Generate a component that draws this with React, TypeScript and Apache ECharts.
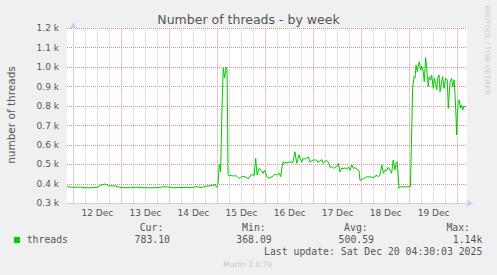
import React, { useEffect, useRef } from "react";
import * as echarts from "echarts";

// Hours relative to 12 Dec 00:00
const hours = [
  -3.1, -0.6, 3.4, 6.3, 9.3, 11.8, 13.8, 15.8, 17.8, 21.3,
  23.3, 28.3, 31.3, 34.3, 37.8, 41.3, 45.3, 47.3, 49.8, 53.3,
  56.3, 59.3, 61.8, 63.8, 66.3, 68.3, 69.8, 70.8, 71.6, 72.3,
  72.9, 73.6, 74.3, 74.9, 75.6, 76.3, 76.8, 77.3, 77.8, 78.8,
  79.8, 81.3, 82.3, 83.3, 84.3, 85.3, 86.3, 87.3, 88.3, 89.3,
  90.3, 91.1, 91.8, 92.8, 93.8, 94.8, 95.5, 96.6, 97.3, 98.3,
  99.8, 100.8, 101.8, 102.8, 103.6, 104.3, 104.9, 105.2, 106.2, 107.2,
  108.2, 109.7, 110.7, 111.6, 112.7, 114.1, 114.7, 115.7, 116.6, 117.4,
  118.2, 119.2, 120.2, 121.6, 122.2, 123.2, 124.1, 124.9, 125.7, 126.6,
  127.4, 128.2, 129.2, 130.2, 131.6, 132.4, 133.2, 134.1, 134.7, 135.7,
  136.6, 137.4, 138.2, 139.1, 139.9, 140.7, 141.6, 142.7, 143.2, 144.1,
  144.9, 145.7, 146.6, 147.2, 148.2, 149.2, 150.7, 151.2, 152.4, 153.2,
  154.1, 154.9, 155.7, 156.5, 157.3, 158.2, 159.0, 159.8, 160.7, 161.2,
  161.8, 162.7, 163.5, 164.7, 166.2, 167.2, 168.4, 169.5, 170.2, 170.7,
  171.2, 171.8, 172.3, 172.8, 173.5, 174.0, 174.8, 175.3, 176.0, 176.5,
  177.3, 177.8, 178.5, 179.0, 179.8, 180.3, 181.0, 181.5, 182.0, 182.7,
  183.2, 184.0, 184.5, 185.2, 186.0, 186.8, 187.3, 188.2, 189.0, 189.5,
  190.2, 190.7, 191.2, 191.5, 191.8, 192.3, 192.8, 193.5, 194.0, 194.5,
  195.2, 195.7, 196.2,
];

const threads = [
  387, 382, 383, 380, 380, 382, 394, 399, 390, 389,
  381, 380, 383, 380, 380, 380, 385, 384, 380, 381,
  382, 381, 386, 381, 388, 390, 393, 396, 382, 400,
  500, 462, 800, 995, 945, 1000, 985, 447, 440, 445,
  440, 442, 432, 428, 440, 437, 435, 425, 440, 448,
  442, 531, 445, 480, 470, 454, 471, 440, 430, 432,
  440, 450, 445, 455, 437, 490, 514, 505, 511, 508,
  512, 510, 565, 505, 548, 511, 530, 528, 531, 539,
  511, 520, 523, 522, 510, 518, 525, 505, 515, 520,
  511, 485, 488, 480, 490, 505, 462, 482, 478, 482,
  476, 486, 470, 497, 480, 483, 477, 468, 418, 423,
  428, 430, 437, 435, 437, 433, 435, 445, 437, 445,
  497, 454, 471, 468, 485, 471, 454, 523, 471, 505,
  514, 377, 385, 385, 384, 385, 386, 891, 951, 945,
  1011, 977, 1005, 1028, 985, 1005, 977, 925, 1049, 994,
  900, 951, 934, 960, 891, 943, 917, 883, 943, 960,
  874, 925, 951, 891, 943, 934, 788, 925, 943, 900,
  934, 857, 737, 651, 754, 822, 831, 788, 805, 780,
  800, 797, 795,
];

const dayLabels = ["12 Dec", "13 Dec", "14 Dec", "15 Dec", "16 Dec", "17 Dec", "18 Dec", "19 Dec"];
const statHeaders = ["Cur:", "Min:", "Avg:", "Max:"];
const statValues = ["783.10", "368.09", "500.59", "1.14k"];
const seriesName = "threads";
const lastUpdate = "Last update: Sat Dec 20 04:30:03 2025";
const titleText = "Number of threads - by week";
const yAxisTitle = "number of threads";
const yMin = 300;
const yMax = 1200;
const yStep = 100;
const startH = -3.15;
const endH = 196.65;

const W = 497;
const H = 275;
const PLOT_L = 67;
const PLOT_R = 467;
const PLOT_T = 28.3;
const PLOT_B = 203.3;
const GREEN = "#00cc00";
const AXIS = "#c8cff5";
const MAJOR = "#dc8c8c";
const MINOR = "#c6c6c6";
const FONT = "#555555";
const SANS = "DejaVu Sans";
const MONO = "DejaVu Sans Mono";

export default function App() {
  const ref = useRef<HTMLDivElement>(null);

  useEffect(() => {
    if (!ref.current) return;
    const chart = echarts.init(ref.current, undefined, { renderer: "svg", width: W, height: H });
    const pxPerH = (PLOT_R - PLOT_L) / (endH - startH);
    const xAt = (h: number) => PLOT_L + (h - startH) * pxPerH;
    const lastDay = (dayLabels.length) * 24; // 192
    const gridBase = { top: PLOT_T, bottom: H - PLOT_B, outerBoundsMode: "none", containLabel: false };

    const headerRight = [163.3, 265.7, 367.7, 470];
    const valueRight = [170, 271.7, 374, 482.3];

    const graphics: any[] = [
      {
        type: "text", x: W / 2, y: 19.3,
        style: { text: titleText, fontSize: 12.5, fontFamily: SANS, fill: FONT, textAlign: "center", textVerticalAlign: "middle" },
      },
      {
        type: "text", x: 10.7, y: 115, rotation: Math.PI / 2,
        style: { text: yAxisTitle, fontSize: 10.5, fontFamily: SANS, fill: FONT, textAlign: "center", textVerticalAlign: "middle" },
      },
      {
        type: "text", x: 487, y: 5, rotation: -Math.PI / 2,
        style: { text: "RRDTOOL / TOBI OETIKER", fontSize: 7, fontFamily: SANS, fill: "#cccccc", textAlign: "left", textVerticalAlign: "middle" },
      },
      { type: "rect", shape: { x: 14, y: 237, width: 6, height: 6 }, style: { fill: GREEN } },
      {
        type: "text", x: 26.7, y: 239.5,
        style: { text: seriesName, fontSize: 9.8, fontFamily: MONO, fill: FONT, textAlign: "left", textVerticalAlign: "middle" },
      },
      {
        type: "text", x: 482.3, y: 251.7,
        style: { text: lastUpdate, fontSize: 9.8, fontFamily: MONO, fill: FONT, textAlign: "right", textVerticalAlign: "middle" },
      },
      {
        type: "text", x: 247.8, y: 264,
        style: { text: "Munin 2.0.76", fontSize: 7.5, fontFamily: SANS, fill: "#c8c8c8", textAlign: "center", textVerticalAlign: "middle" },
      },
    ];
    statHeaders.forEach((t, i) => {
      graphics.push({
        type: "text", x: headerRight[i], y: 227.5,
        style: { text: t, fontSize: 9.8, fontFamily: MONO, fill: FONT, textAlign: "right", textVerticalAlign: "middle" },
      });
      graphics.push({
        type: "text", x: valueRight[i], y: 239.5,
        style: { text: statValues[i], fontSize: 9.8, fontFamily: MONO, fill: FONT, textAlign: "right", textVerticalAlign: "middle" },
      });
    });

    chart.setOption({
      animation: false,
      backgroundColor: "#f0f0f0",
      grid: [
        { ...gridBase, left: PLOT_L, right: W - PLOT_R, show: true, backgroundColor: "#ffffff", borderWidth: 0 },
        { ...gridBase, left: xAt(0), right: W - xAt(lastDay) },
        { ...gridBase, left: xAt(12), right: W - xAt(lastDay - 12) },
      ],
      xAxis: [
        {
          gridIndex: 0, type: "value", min: startH, max: endH, position: "bottom",
          axisLine: { show: true, onZero: false, lineStyle: { color: AXIS, width: 1 }, symbol: ["none", "arrow"], symbolSize: [6, 7], symbolOffset: [0, 6] },
          axisTick: { show: false }, axisLabel: { show: false }, splitLine: { show: false },
        },
        {
          gridIndex: 1, type: "value", min: 0, max: lastDay, interval: 24,
          axisLine: { show: false }, axisTick: { show: false }, axisLabel: { show: false },
          splitLine: { show: true, lineStyle: { color: MAJOR, width: 1, type: [1, 1] } },
          minorTick: { show: false, splitNumber: 4 },
          minorSplitLine: { show: true, lineStyle: { color: MINOR, width: 1, type: [1, 1] } },
        },
        {
          gridIndex: 2, type: "value", min: 0, max: lastDay - 24, interval: 24,
          axisLine: { show: false }, axisTick: { show: false }, splitLine: { show: false },
          axisLabel: {
            show: true, color: FONT, fontSize: 9, fontFamily: SANS, margin: 5,
            formatter: (v: number) => {
              const d = Math.round(v / 24);
              return Math.abs(v / 24 - d) < 1e-6 && d >= 0 && d < dayLabels.length ? dayLabels[d] : "";
            },
          },
        },
      ],
      yAxis: [
        {
          gridIndex: 0, type: "value", min: yMin, max: yMax, interval: yStep,
          axisLine: { show: true, lineStyle: { color: AXIS, width: 1 }, symbol: ["none", "arrow"], symbolSize: [6, 7], symbolOffset: [0, 6] },
          axisTick: { show: false },
          axisLabel: {
            color: FONT, fontSize: 9, fontFamily: SANS, margin: 8,
            formatter: (v: number) => (v / 1000).toFixed(1) + " k",
          },
          splitLine: { show: true, lineStyle: { color: MAJOR, width: 1, type: [1, 1] } },
        },
        { gridIndex: 1, type: "value", min: 0, max: 1, show: false },
        { gridIndex: 2, type: "value", min: 0, max: 1, show: false },
      ],
      series: [
        {
          name: seriesName, type: "line", xAxisIndex: 0, yAxisIndex: 0,
          data: hours.map((h, i) => [h, threads[i]]),
          showSymbol: false, symbol: "none", silent: true, z: 5,
          lineStyle: { color: GREEN, width: 1 }, itemStyle: { color: GREEN },
        },
      ],
      graphic: graphics,
    });
    return () => chart.dispose();
  }, []);

  return (
    <div style={{ position: "fixed", left: 0, top: 0, width: W, height: H, background: "#f0f0f0" }}>
      <div ref={ref} style={{ width: W, height: H }} />
    </div>
  );
}
